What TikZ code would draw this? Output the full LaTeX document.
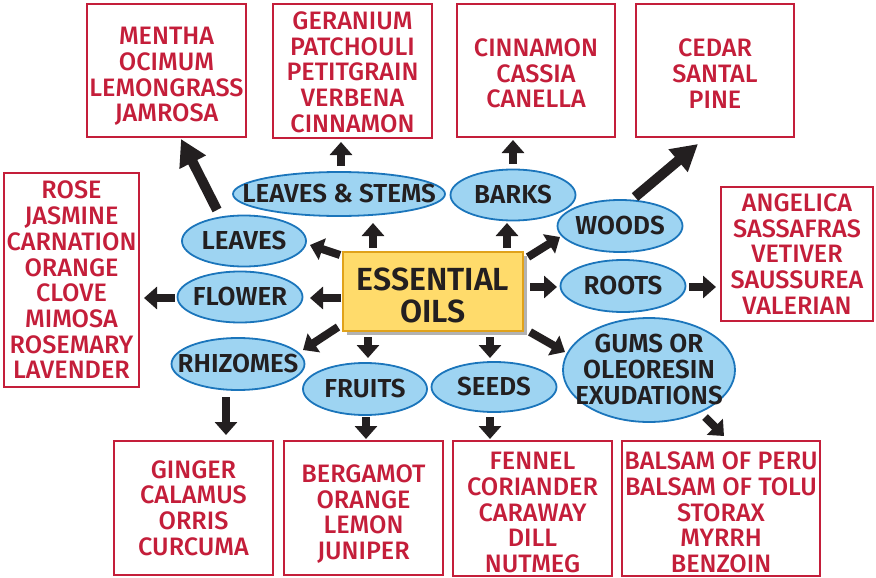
\documentclass[tikz,border=0pt]{standalone}
\usepackage{fontspec}
\setmainfont{Fira Sans}
\newfontfamily\medfont{Fira Sans Medium}
\newfontfamily\semifont{Fira Sans SemiBold}
\usetikzlibrary{arrows.meta,shapes.geometric,shadows,calc}
\definecolor{redc}{HTML}{C41E3A}
\definecolor{bluec}{HTML}{1B75BB}
\definecolor{bluef}{HTML}{9ED4F2}
\definecolor{darkc}{HTML}{231F20}
\definecolor{yelf}{HTML}{FFDB6B}
\definecolor{yeld}{HTML}{E0A21B}
\begin{document}
\begin{tikzpicture}[x=1pt,y=-1pt,
  redbox/.style={draw=redc,line width=2.2pt,fill=white,inner sep=0pt},
  redt/.style={text=redc,align=center,inner sep=0pt,font=\medfont\fontsize{25.2}{25.7}\selectfont},
  cat/.style={ellipse,draw=bluec,line width=1.8pt,fill=bluef,inner sep=0pt},
  catt/.style={text=darkc,align=center,inner sep=0pt,font=\semifont\fontsize{26}{26}\selectfont},
  arr/.style={draw=darkc,line width=8pt,-{Triangle[width=22pt,length=13pt]}},
  bigarr/.style={draw=darkc,line width=10pt,-{Triangle[width=28pt,length=26pt]}}]
\useasboundingbox (0,0) rectangle (876,578);

% red boxes
\node[redbox,minimum width=159pt,minimum height=133pt,label={[redt,yshift=-6pt]center:MENTHA\\OCIMUM\\LEMONGRASS\\JAMROSA}] (mentha) at (166.5,70.5) {};
\node[redbox,minimum width=159pt,minimum height=134pt,label={[redt,yshift=-1pt]center:GERANIUM\\PATCHOULI\\PETITGRAIN\\VERBENA\\CINNAMON}] (ger) at (352.5,71) {};
\node[redbox,minimum width=158pt,minimum height=133pt,label={[redt,yshift=-3pt]center:CINNAMON\\CASSIA\\CANELLA}] (cin) at (536,70.5) {};
\node[redbox,minimum width=158pt,minimum height=133pt,label={[redt,yshift=-3pt]center:CEDAR\\SANTAL\\PINE}] (cedar) at (715,70.5) {};
\node[redbox,minimum width=152pt,minimum height=134pt,label={[redt]center:ANGELICA\\SASSAFRAS\\VETIVER\\SAUSSUREA\\VALERIAN}] (ang) at (797,254) {};
\node[redbox,minimum width=135pt,minimum height=214pt,label={[redt]center:ROSE\\JASMINE\\CARNATION\\ORANGE\\CLOVE\\MIMOSA\\ROSEMARY\\LAVENDER}] (rose) at (71.5,280) {};
\node[redbox,minimum width=159pt,minimum height=134pt,label={[redt]center:GINGER\\CALAMUS\\ORRIS\\CURCUMA}] (ginger) at (193.5,508) {};
\node[redbox,minimum width=159pt,minimum height=134pt,label={[redt,yshift=-6pt]center:BERGAMOT\\ORANGE\\LEMON\\JUNIPER}] (berg) at (363.5,508) {};
\node[redbox,minimum width=159pt,minimum height=135pt,label={[redt,yshift=-4pt]center:FENNEL\\CORIANDER\\CARAWAY\\DILL\\NUTMEG}] (fen) at (532.5,508.5) {};
\node[redbox,minimum width=198pt,minimum height=135pt,label={[redt,yshift=-4pt]center:BALSAM OF PERU\\BALSAM OF TOLU\\STORAX\\MYRRH\\BENZOIN}] (bal) at (721,508.5) {};

% category ellipses
\node[cat,minimum width=212pt,minimum height=44pt,label={[catt]center:LEAVES \& STEMS}] (ls) at (339,194) {};
\node[cat,minimum width=125pt,minimum height=51pt,label={[catt]center:BARKS}] (barks) at (513,195) {};
\node[cat,minimum width=125pt,minimum height=52pt,label={[catt]center:WOODS}] (woods) at (620,226) {};
\node[cat,minimum width=125pt,minimum height=52pt,label={[catt]center:ROOTS}] (roots) at (623,286) {};
\node[cat,minimum width=124pt,minimum height=51pt,label={[catt]center:LEAVES}] (leaves) at (244,241) {};
\node[cat,minimum width=125pt,minimum height=51pt,label={[catt]center:FLOWER}] (flower) at (240,297) {};
\node[cat,minimum width=133pt,minimum height=52pt,label={[catt]center:RHIZOMES}] (rhiz) at (238,364) {};
\node[cat,minimum width=124pt,minimum height=52pt,label={[catt]center:FRUITS}] (fruits) at (365,389) {};
\node[cat,minimum width=125pt,minimum height=50pt,label={[catt]center:SEEDS}] (seeds) at (494,387) {};
\node[cat,minimum width=172pt,minimum height=104pt,label={[catt]center:GUMS OR\\OLEORESIN\\EXUDATIONS}] (gums) at (649,370) {};

% centre
\node[draw=yeld,line width=2pt,fill=yelf,minimum width=180pt,minimum height=79pt,inner sep=0pt,
  drop shadow={shadow xshift=4pt,shadow yshift=-4pt,fill=black,opacity=0.3},
  label={[text=darkc,align=center,inner sep=0pt,font=\semifont\fontsize{32}{32.5}\selectfont,yshift=-4pt]center:ESSENTIAL\\OILS}] (eo) at (433,291.5) {};

% arrows from centre
\draw[arr] ($(eo)+(-60,-43.5)$) -- ($(ls)+(34,29)$);
\draw[arr] ($(eo)+(74,-43.5)$) -- ($(barks)+(-6,28)$);
\draw[arr] ($(eo)+(95,-34.5)$) -- ($(woods)+(-60,11)$);
\draw[arr] ($(eo)+(97,-4.5)$) -- ($(roots)+(-66,1)$);
\draw[arr] ($(eo)+(97,40.5)$) -- ($(gums)+(-84,-18)$);
\draw[arr] ($(eo)+(57,45.5)$) -- ($(seeds)+(-4,-29)$);
\draw[arr] ($(eo)+(-65,45.5)$) -- ($(fruits)+(3,-31)$);
\draw[arr] ($(eo)+(-95,35.5)$) -- ($(rhiz)+(65,-14)$);
\draw[arr] ($(eo)+(-92,6.5)$) -- ($(flower)+(70,1)$);
\draw[arr] ($(eo)+(-93,-36.5)$) -- ($(leaves)+(66,4)$);

% arrows to lists
\draw[bigarr] ($(leaves)+(-27,-31)$) -- ($(mentha)+(14.5,68.5)$);
\draw[arr] ($(ls)+(2,-28)$) -- ($(ger)+(-11.5,71)$);
\draw[arr] ($(barks)+(0,-31)$) -- ($(cin)+(-23,69.5)$);
\draw[bigarr] ($(woods)+(15,-29)$) -- ($(cedar)+(-17,73.5)$);
\draw[arr] ($(roots)+(66,1)$) -- ($(ang)+(-81,33)$);
\draw[arr] ($(flower)+(-65,1)$) -- ($(rose)+(72.5,18)$);
\draw[arr] ($(rhiz)+(-12,33)$) -- ($(ginger)+(32.5,-73)$);
\draw[arr] ($(fruits)+(1,28)$) -- ($(berg)+(2.5,-69)$);
\draw[arr] ($(seeds)+(-4,30)$) -- ($(fen)+(-42.5,-69.5)$);
\draw[arr] ($(gums)+(56,47)$) -- ($(bal)+(3,-72.5)$);
\end{tikzpicture}
\end{document}
